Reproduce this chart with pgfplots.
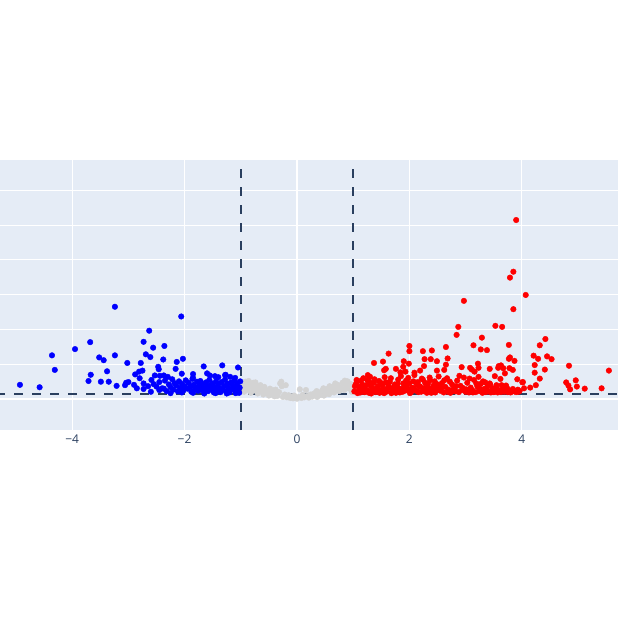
\documentclass[border=0pt]{standalone}
\usepackage{fontspec}
\setmainfont{Open Sans}
\usepackage{pgfplots}
\pgfplotsset{compat=1.18}

\definecolor{plotbg}{HTML}{E5ECF6}
\definecolor{tickc}{HTML}{2A3F5F}
\definecolor{nsgray}{HTML}{D3D3D3}

\begin{document}
\begin{tikzpicture}
\path[use as bounding box] (0,0) rectangle (618pt,616pt);
\begin{axis}[
  at={(0pt,186pt)}, anchor=south west,
  scale only axis, width=618pt, height=270pt,
  xmin=-5.285, xmax=5.712,
  ymin=-9.02, ymax=68.8,
  axis background/.style={fill=plotbg},
  axis line style={draw=none},
  grid=major,
  grid style={white, line width=1pt},
  major tick length=0pt,
  xtick={-4,-2,0,2,4},
  xticklabels={−4,−2,0,2,4},
  ytick={0,10,20,30,40,50,60},
  yticklabels={},
  x tick label style={font=\fontsize{12pt}{14pt}\selectfont, text=tickc, yshift=-1pt},
  clip=true,
]
% zero lines
\draw[white, line width=2pt] (axis cs:0,-9.02) -- (axis cs:0,68.8);
\draw[white, line width=2pt] (axis cs:-5.285,0) -- (axis cs:5.712,0);

% not significant
\addplot[only marks, mark=*, mark size=2.8pt, color=nsgray, mark options={line width=0.4pt}] coordinates {
(-0.98,4.5)(-0.96,3.2)(-0.94,2.0)(-0.92,4.9)(-0.90,3.8)(-0.88,2.6)(-0.85,4.1)(-0.82,1.7)
(-0.80,3.3)(-0.78,4.6)(-0.75,2.4)(-0.72,3.6)(-0.70,1.5)(-0.68,2.9)(-0.65,3.9)(-0.62,2.1)
(-0.60,1.2)(-0.57,2.7)(-0.55,1.6)(-0.52,2.2)(-0.50,0.9)(-0.47,1.8)(-0.45,1.2)(-0.42,2.4)
(-0.40,0.7)(-0.37,1.5)(-0.35,0.8)(-0.32,1.9)(-0.30,4.4)(-0.28,4.9)(-0.27,3.6)(-0.25,0.5)
(-0.22,1.2)(-0.20,3.9)(-0.18,0.4)(-0.15,1.0)(-0.12,0.2)(-0.10,0.7)(-0.07,0.1)(-0.05,0.9)
(-0.02,0.3)(0.00,0.0)(0.03,0.5)(0.05,2.7)(0.08,0.2)(0.10,1.1)(0.13,0.4)(0.16,2.5)
(0.18,0.8)(0.21,0.3)(0.24,1.2)(0.27,0.6)(0.30,1.5)(0.33,0.9)(0.36,0.5)(0.39,1.8)
(0.42,1.1)(0.45,2.3)(0.48,0.9)(0.51,1.6)(0.54,2.8)(0.57,1.3)(0.60,2.1)(0.63,3.4)
(0.66,1.8)(0.69,2.6)(0.72,4.0)(0.75,2.2)(0.78,3.1)(0.81,4.6)(0.84,2.5)(0.87,3.7)
(0.90,5.0)(0.93,2.9)(0.96,4.2)(0.98,1.9)(0.99,3.5)(-0.58,3.4)(-0.48,2.9)(-0.38,2.6)
(0.35,2.2)(0.47,3.0)(0.58,3.6)(0.68,4.4)(0.85,5.2)(-0.86,5.1)(-0.74,4.7)
};

% down
\addplot[only marks, mark=*, mark size=2.8pt, color=blue, mark options={line width=0.4pt}] coordinates {
(-4.93,4.0)(-4.58,3.3)(-4.36,12.5)(-4.31,8.3)(-3.95,14.3)(-3.68,16.3)(-3.24,26.5)
(-3.52,11.9)(-3.44,11.1)(-3.24,12.5)(-3.67,6.9)(-3.71,5.1)(-3.49,4.9)(-3.38,7.9)
(-3.35,4.9)(-3.21,3.7)(-3.02,10.3)(-3.06,3.9)(-3.00,4.8)(-3.04,4.6)(-2.06,23.7)
(-2.63,19.6)(-2.73,16.4)(-2.36,15.2)(-2.56,14.7)(-2.69,12.8)(-2.61,12.0)(-2.38,11.3)
(-2.03,11.5)(-2.14,10.6)(-2.78,10.3)(-2.16,8.6)(-2.47,9.2)(-2.46,8.5)(-2.75,8.1)
(-2.81,7.8)(-2.88,7.0)(-1.66,9.3)(-1.33,9.6)(-1.05,9.0)(-2.37,6.7)(-2.53,6.7)
(-2.44,6.6)(-2.59,5.4)(-2.80,5.9)(-2.73,4.4)(-2.73,2.8)(-2.45,2.5)(-2.37,2.9)
(-1.60,7.3)(-1.46,6.5)(-1.19,6.3)(-1.85,7.1)(-1.28,6.8)
(-2.50,3.5)(-2.45,4.8)(-2.40,3.0)(-2.35,5.2)(-2.32,2.2)(-2.28,4.1)(-2.25,3.3)(-2.22,5.6)
(-2.20,2.6)(-2.18,4.5)(-2.15,3.8)(-2.12,2.1)(-2.10,5.0)(-2.08,3.1)(-2.05,4.3)(-2.02,2.4)
(-2.00,3.6)(-1.98,5.3)(-1.95,2.9)(-1.93,4.6)(-1.90,3.4)(-1.88,2.0)(-1.86,5.7)(-1.84,4.0)
(-1.82,2.7)(-1.80,3.2)(-1.78,4.9)(-1.76,2.3)(-1.74,3.7)(-1.72,5.1)(-1.70,2.5)(-1.68,4.2)
(-1.66,3.0)(-1.64,1.9)(-1.62,4.7)(-1.60,3.5)(-1.58,2.2)(-1.56,5.4)(-1.54,3.9)(-1.52,2.8)
(-1.50,4.4)(-1.48,1.8)(-1.46,3.3)(-1.44,5.0)(-1.42,2.4)(-1.40,4.1)(-1.38,3.0)(-1.36,1.9)
(-1.34,4.8)(-1.32,2.6)(-1.30,3.6)(-1.28,5.5)(-1.26,2.1)(-1.24,4.3)(-1.22,3.1)(-1.20,1.8)
(-1.18,4.6)(-1.16,2.7)(-1.14,3.8)(-1.12,5.2)(-1.10,2.3)(-1.08,3.4)(-1.06,4.5)(-1.04,2.0)
(-1.02,3.2)(-1.01,5.0)(-1.03,1.7)(-1.09,1.6)(-1.25,1.5)(-1.45,1.6)(-1.65,1.5)(-1.85,1.7)
(-2.05,1.8)(-2.25,1.6)(-2.65,3.6)(-2.60,2.0)(-2.55,4.2)(-2.90,4.0)(-2.85,3.0)
(-2.30,6.3)(-2.05,7.2)(-1.85,6.0)(-1.55,6.7)(-1.40,6.2)(-1.27,6.9)(-1.10,6.0)
};

% up
\addplot[only marks, mark=*, mark size=2.8pt, color=red, mark options={line width=0.4pt}] coordinates {
(3.90,51.5)(3.85,36.6)(3.79,34.9)(4.07,29.9)(2.97,28.2)(3.85,25.8)(2.87,20.7)(3.53,21.0)
(3.65,20.7)(2.84,18.4)(3.29,17.6)(3.27,14.2)(3.38,14.0)(3.14,15.4)(2.65,14.9)(3.77,15.5)
(4.42,17.2)(4.32,15.4)(4.21,12.4)(4.29,11.5)(4.45,12.2)(4.53,11.4)(4.23,9.7)(4.23,7.5)
(4.41,8.4)(4.32,5.8)(4.84,9.5)(5.55,8.1)(4.79,4.7)(4.83,3.8)(4.86,2.7)(4.96,5.3)
(4.98,3.5)(5.12,2.9)(5.42,3.0)(3.77,11.5)(3.79,11.9)(3.87,10.9)(3.78,8.8)(3.84,8.3)
(3.59,9.4)(3.67,8.8)(3.43,8.6)(3.92,5.6)(4.01,4.7)(4.15,3.2)(4.04,3.0)(4.25,3.9)
(2.00,15.2)(2.00,13.7)(2.24,13.7)(2.40,13.9)(2.27,11.4)(2.38,11.4)(2.49,10.8)(1.90,10.8)
(1.99,10.1)(2.68,11.6)(2.65,9.8)(2.93,9.1)(3.08,8.9)(3.22,10.1)(3.23,8.9)(2.49,8.1)
(2.62,8.3)(1.37,10.3)(1.53,10.7)(1.63,13.0)(1.89,9.2)(1.55,8.2)(1.58,8.6)(1.76,8.6)
(1.84,7.6)(1.93,7.8)(2.09,7.5)(2.19,8.1)(2.26,9.4)(1.26,6.8)(1.30,6.3)(1.06,5.4)
(1.18,5.9)(3.11,8.4)(3.16,7.8)(3.23,6.3)(3.58,8.9)(3.63,9.6)(3.70,7.3)(3.52,6.5)
(4.02,4.8)(3.35,4.7)(3.43,4.4)(3.55,3.9)(3.64,3.9)
(1.02,2.1)(1.05,4.3)(1.08,1.6)(1.11,3.4)(1.14,5.2)(1.17,2.7)(1.20,1.9)(1.23,3.9)
(1.26,2.4)(1.29,4.8)(1.32,1.5)(1.35,3.0)(1.38,5.6)(1.41,2.2)(1.44,3.6)(1.47,1.7)
(1.50,4.5)(1.53,2.9)(1.56,6.2)(1.59,2.0)(1.62,3.3)(1.65,4.9)(1.68,1.6)(1.71,2.6)
(1.74,4.1)(1.77,3.1)(1.80,5.5)(1.83,1.8)(1.86,2.8)(1.89,4.4)(1.92,2.3)(1.95,3.7)
(1.98,6.0)(2.01,1.6)(2.04,3.2)(2.07,5.0)(2.10,2.5)(2.13,4.0)(2.16,1.9)(2.19,3.5)
(2.22,5.8)(2.25,2.2)(2.28,4.6)(2.31,1.7)(2.34,3.0)(2.37,5.3)(2.40,2.6)(2.43,3.8)
(2.46,1.8)(2.49,4.2)(2.52,6.4)
(1.03,3.6)(1.07,5.0)(1.10,2.4)(1.13,1.8)(1.16,4.1)(1.19,3.2)(1.22,2.0)(1.25,5.4)
(1.28,1.7)(1.31,3.8)(1.34,2.5)(1.37,4.6)(1.40,1.9)(1.43,3.1)(1.46,5.1)(1.49,2.2)
(1.52,3.9)(1.55,1.6)(1.58,4.7)(1.61,2.7)(1.64,3.5)(1.67,5.9)(1.70,2.1)(1.73,3.3)
(1.76,1.7)(1.79,4.3)(1.82,2.9)(1.85,6.5)(1.88,2.0)(1.91,3.4)(1.94,5.2)(1.97,2.6)
(2.00,4.5)(2.03,1.9)(2.06,3.0)(2.09,6.8)(2.12,2.3)(2.15,4.8)(2.18,3.6)(2.21,2.0)
(2.24,5.5)(2.27,3.1)(2.30,2.4)(2.33,4.3)(2.36,6.1)(2.39,1.7)(2.42,3.3)(2.45,5.0)
(2.48,2.8)(2.51,3.9)
(2.55,2.3)(2.58,4.5)(2.61,1.8)(2.64,3.4)(2.67,5.9)(2.70,2.6)(2.73,1.7)(2.76,4.1)
(2.79,3.0)(2.82,2.1)(2.85,5.2)(2.88,1.9)(2.91,3.7)(2.94,2.5)(2.97,6.1)(3.00,2.0)
(3.03,4.6)(3.06,1.8)(3.09,3.2)(3.12,2.4)(3.15,5.4)(3.18,1.9)(3.21,3.5)(3.24,2.2)
(3.27,4.3)(3.30,1.7)(3.33,2.8)(3.36,1.9)(3.39,3.6)(3.42,2.1)(3.45,1.8)(3.48,2.9)
(3.51,2.0)(3.54,3.3)(3.57,1.8)(3.60,2.4)(3.63,1.9)(3.66,2.7)(3.69,2.0)(3.72,3.8)
(3.75,1.9)(3.78,2.3)(3.81,2.0)(3.84,2.8)(3.87,2.1)(3.90,1.9)(3.93,2.6)(3.96,2.2)
(2.57,3.1)(2.62,5.3)(2.68,2.0)(2.72,4.9)(2.78,2.2)(2.83,3.6)(2.89,6.6)(2.95,3.1)
(3.01,2.7)(3.07,5.8)(3.13,1.8)(3.19,4.4)(3.25,2.9)(3.31,5.0)(3.37,2.5)(3.44,4.0)
(3.50,1.9)(3.56,2.6)(3.62,5.7)(3.68,2.3)(3.74,3.0)(3.80,1.8)(3.86,2.4)(3.94,2.0)
};

% thresholds
\draw[tickc, line width=2pt, dash pattern=on 9pt off 9pt] (axis cs:-1,-9.02) -- (axis cs:-1,68.8);
\draw[tickc, line width=2pt, dash pattern=on 9pt off 9pt] (axis cs:1,-9.02) -- (axis cs:1,68.8);
\draw[tickc, line width=2pt, dash pattern=on 9pt off 9pt, dash phase=3.7pt] (axis cs:-5.285,1.5) -- (axis cs:5.712,1.5);
\end{axis}
\end{tikzpicture}
\end{document}
